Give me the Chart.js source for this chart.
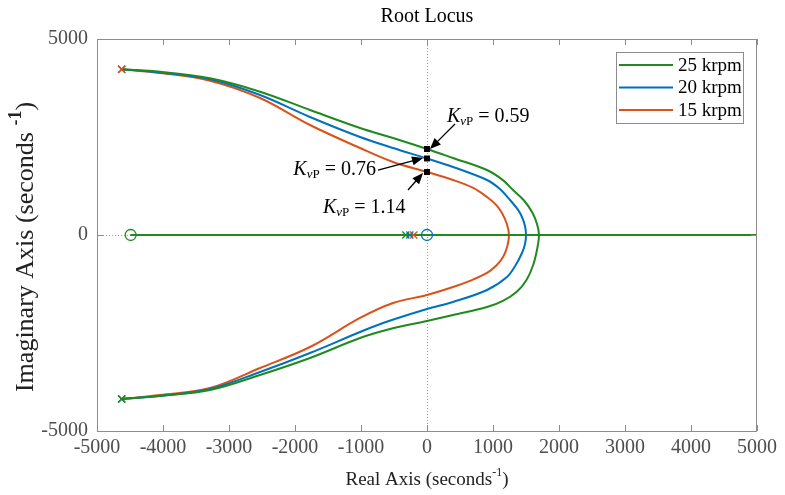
<!DOCTYPE html>
<html>
<head>
<meta charset="utf-8">
<script src="https://cdn.jsdelivr.net/npm/chart.js@4.4.0/dist/chart.umd.min.js"></script>
<style>
html, body { margin: 0; padding: 0; background: #fff; }
</style>
</head>
<body>
<canvas id="chart" width="785" height="495"></canvas>
<script>
// speeds and colours
const speeds = ['25 krpm', '20 krpm', '15 krpm'];
const colors = ['#1f8a1f', '#0072bd', '#d95319'];

// complex branches: upper half from the left pole to the real axis, then lower half back
const branch25 = [[-4626,4227],[-4045,4166],[-3288,3997],[-2530,3656],[-1773,3189],[-1015,2730],[-515,2474],[0,2194],[394,1964],[909,1658],[1150,1400],[1303,1148],[1470,880],[1600,560],[1670,260],[1697,0],[1672,-330],[1610,-760],[1510,-1140],[1364,-1440],[1150,-1680],[909,-1837],[394,-2041],[0,-2194],[-515,-2380],[-1015,-2628],[-1773,-3138],[-2530,-3571],[-3288,-3954],[-4045,-4100],[-4626,-4184]];
const branch20 = [[-4626,4227],[-4045,4145],[-3288,3972],[-2530,3571],[-1773,3010],[-1015,2500],[-515,2219],[0,1952],[394,1735],[909,1403],[1100,1180],[1258,893],[1380,640],[1439,459],[1485,230],[1500,0],[1485,-230],[1439,-459],[1340,-780],[1212,-1071],[909,-1403],[394,-1709],[0,-1888],[-667,-2245],[-1015,-2474],[-1773,-3010],[-2530,-3495],[-3288,-3929],[-4045,-4107],[-4626,-4184]];
const branch15 = [[-4626,4227],[-4045,4133],[-3288,3936],[-2530,3495],[-1773,2806],[-1015,2219],[-515,1862],[0,1607],[394,1403],[700,1200],[909,969],[1040,780],[1136,561],[1210,280],[1242,0],[1215,-300],[1152,-561],[1050,-780],[909,-969],[650,-1170],[394,-1327],[0,-1531],[-515,-1735],[-1015,-2117],[-1773,-2857],[-2530,-3393],[-3288,-3903],[-4045,-4082],[-4626,-4184]];
const branches = [branch25, branch20, branch15];

// real axis part of the locus
const realAxis = [[-4490,0],[5000,0]];

// poles and zeros
const upperPole = [-4626, 4227];
const lowerPole = [-4626, -4184];
const realPoles = [-320, -260, -200];
const leftZero = -4490;
const originZero = 0;

// gain marks where the loci cross the imaginary axis
const kvp = ['0.59', '0.76', '1.14'];
const crossY = [2194, 1952, 1607];
// label anchor (x, y, alignment), arrow tail (x, y), arrow head (x, y)
const annText = [[303, 3010, 'left'], [-773, 1658, 'right'], [-1576, 689, 'left']];
const annTail = [[424, 2832], [-742, 1658], [-288, 1148]];
const annHead = [[45, 2194], [-60, 1964], [-60, 1582]];

const xTicks = [-5000, -4000, -3000, -2000, -1000, 0, 1000, 2000, 3000, 4000, 5000];
const yTicks = [-5000, 0, 5000];

const serif = "'Liberation Serif', 'Times New Roman', serif";
const pts = arr => arr.map(p => ({ x: p[0], y: p[1] }));

function marker(point, style, color, order, radius) {
    return {
        data: [{ x: point[0], y: point[1] }], showLine: false,
        pointStyle: style, pointRadius: radius, pointBorderWidth: 1.3,
        pointBorderColor: color, pointBackgroundColor: 'rgba(0,0,0,0)', order: order
    };
}

const datasets = [];
// black squares at the crossings
datasets.push({
    data: crossY.map(y => ({ x: 0, y: y })),
    showLine: false, pointStyle: 'rect', pointRadius: 4.2,
    pointBackgroundColor: '#000', pointBorderColor: '#000', pointBorderWidth: 0, order: 0
});
speeds.forEach((s, i) => {
    datasets.push({
        label: s, data: pts(branches[i]), borderColor: colors[i], borderWidth: 2,
        pointRadius: 0, tension: 0.35, fill: false, order: 10 + i
    });
    datasets.push({
        data: pts(realAxis), borderColor: colors[i], borderWidth: 2,
        pointRadius: 0, fill: false, order: 10 + i
    });
    datasets.push(marker(upperPole, 'crossRot', colors[i], 3 - i, 5));
    datasets.push(marker(lowerPole, 'crossRot', colors[i], 1 + i, 5));
    datasets.push(marker([realPoles[i], 0], 'crossRot', colors[i], 3 - i, 5));
});
// zeros are shared; only the top-most colour shows in the reference
datasets.push(marker([leftZero, 0], 'circle', colors[0], 1, 5.5));
datasets.push(marker([originZero, 0], 'circle', colors[1], 1, 5.5));

const decor = {
    id: 'decor',
    beforeDatasetsDraw(chart) {
        const ctx = chart.ctx, a = chart.chartArea;
        const xs = chart.scales.x, ys = chart.scales.y;
        ctx.save();
        ctx.strokeStyle = '#9a9a9a';
        ctx.lineWidth = 1;
        ctx.setLineDash([1, 2]);
        const x0 = Math.round(xs.getPixelForValue(0)) + 0.5;
        const y0 = Math.round(ys.getPixelForValue(0)) + 0.5;
        ctx.beginPath();
        ctx.moveTo(x0, a.top); ctx.lineTo(x0, a.bottom);
        ctx.moveTo(a.left, y0); ctx.lineTo(a.right, y0);
        ctx.stroke();
        ctx.restore();
    },
    afterDraw(chart) {
        const ctx = chart.ctx, a = chart.chartArea;
        const xs = chart.scales.x, ys = chart.scales.y;
        ctx.save();
        // frame and inward ticks
        ctx.strokeStyle = '#8c8c8c';
        ctx.lineWidth = 1;
        ctx.strokeRect(a.left + 0.5, a.top + 0.5, a.right - a.left - 1, a.bottom - a.top);
        ctx.beginPath();
        xTicks.forEach(v => {
            const px = Math.round(xs.getPixelForValue(v)) + 0.5;
            ctx.moveTo(px, a.bottom); ctx.lineTo(px, a.bottom - 6);
            ctx.moveTo(px, a.top); ctx.lineTo(px, a.top + 6);
        });
        yTicks.forEach(v => {
            const py = Math.round(ys.getPixelForValue(v)) + 0.5;
            ctx.moveTo(a.left, py); ctx.lineTo(a.left + 6, py);
            ctx.moveTo(a.right, py); ctx.lineTo(a.right - 6, py);
        });
        ctx.stroke();

        // title
        ctx.fillStyle = '#000';
        ctx.font = '20px ' + serif;
        ctx.textAlign = 'center';
        ctx.textBaseline = 'middle';
        ctx.fillText('Root Locus', (a.left + a.right) / 2, 17);

        // axis titles with superscripts
        function withSup(parts, cx, cy) {
            let w = 0;
            parts.forEach(p => { ctx.font = p[1]; w += ctx.measureText(p[0]).width; });
            let x = cx - w / 2;
            ctx.textAlign = 'left';
            parts.forEach(p => {
                ctx.font = p[1];
                ctx.fillText(p[0], x, cy + p[2]);
                x += ctx.measureText(p[0]).width;
            });
        }
        ctx.fillStyle = '#222';
        ctx.textBaseline = 'middle';
        withSup([['Real Axis (seconds', '19px ' + serif, 0], ['-1', '12px ' + serif, -7], [')', '19px ' + serif, 0]],
            (a.left + a.right) / 2, 480);
        ctx.save();
        ctx.translate(26, (a.top + a.bottom) / 2 + 12);
        ctx.rotate(-Math.PI / 2);
        withSup([['Imaginary Axis (seconds ', '26px ' + serif, 0], ['-1', 'bold 18px ' + serif, -10], [')', '26px ' + serif, 0]], 0, 0);
        ctx.restore();

        // legend
        const lx = 616, ly = 52, lw = 127, lh = 71;
        ctx.fillStyle = '#fff';
        ctx.fillRect(lx, ly, lw, lh);
        ctx.strokeStyle = '#8c8c8c';
        ctx.strokeRect(lx + 0.5, ly + 0.5, lw, lh);
        speeds.forEach((s, i) => {
            const yy = ly + 13 + i * 22.5;
            ctx.strokeStyle = colors[i];
            ctx.lineWidth = 2;
            ctx.beginPath();
            ctx.moveTo(lx + 3, yy); ctx.lineTo(lx + 57, yy);
            ctx.stroke();
            ctx.fillStyle = '#000';
            ctx.font = '19px ' + serif;
            ctx.textAlign = 'left';
            ctx.textBaseline = 'middle';
            ctx.fillText(s, lx + 62, yy + 1);
        });

        // gain annotations
        kvp.forEach((k, i) => {
            const tx = xs.getPixelForValue(annText[i][0]);
            const ty = ys.getPixelForValue(annText[i][1]);
            const parts = [['K', 'italic 20px ' + serif, 0], ['v', 'italic 13px ' + serif, 5], ['P', '13px ' + serif, 5], [' = ' + k, '20px ' + serif, 0]];
            let w = 0;
            parts.forEach(p => { ctx.font = p[1]; w += ctx.measureText(p[0]).width; });
            let x = annText[i][2] === 'left' ? tx : tx - w;
            ctx.fillStyle = '#000';
            ctx.textAlign = 'left';
            ctx.textBaseline = 'middle';
            parts.forEach(p => {
                ctx.font = p[1];
                ctx.fillText(p[0], x, ty + p[2]);
                x += ctx.measureText(p[0]).width;
            });
            const x1 = xs.getPixelForValue(annTail[i][0]), y1 = ys.getPixelForValue(annTail[i][1]);
            const x2 = xs.getPixelForValue(annHead[i][0]), y2 = ys.getPixelForValue(annHead[i][1]);
            const ang = Math.atan2(y2 - y1, x2 - x1);
            ctx.strokeStyle = '#000';
            ctx.lineWidth = 1.3;
            ctx.beginPath();
            ctx.moveTo(x1, y1);
            ctx.lineTo(x2 - 8 * Math.cos(ang), y2 - 8 * Math.sin(ang));
            ctx.stroke();
            ctx.fillStyle = '#000';
            ctx.beginPath();
            ctx.moveTo(x2, y2);
            ctx.lineTo(x2 - 11 * Math.cos(ang) + 4.5 * Math.sin(ang), y2 - 11 * Math.sin(ang) - 4.5 * Math.cos(ang));
            ctx.lineTo(x2 - 11 * Math.cos(ang) - 4.5 * Math.sin(ang), y2 - 11 * Math.sin(ang) + 4.5 * Math.cos(ang));
            ctx.closePath();
            ctx.fill();
        });
        ctx.restore();
    }
};

new Chart(document.getElementById('chart'), {
    type: 'line',
    data: { datasets: datasets },
    options: {
        responsive: false,
        animation: false,
        layout: { padding: { top: 39, right: 28, left: 0, bottom: 0 } },
        plugins: { legend: { display: false }, title: { display: false }, tooltip: { enabled: false } },
        scales: {
            x: {
                type: 'linear', min: -5000, max: 5000,
                afterFit: s => { s.height = 64; },
                afterBuildTicks: s => { s.ticks = xTicks.map(v => ({ value: v })); },
                grid: { display: false }, border: { display: false },
                ticks: { padding: -3, color: '#4d4d4d', font: { family: serif, size: 20 }, callback: v => String(v) }
            },
            y: {
                type: 'linear', min: -5000, max: 5000,
                afterFit: s => { s.width = 97; },
                afterBuildTicks: s => { s.ticks = yTicks.map(v => ({ value: v })); },
                grid: { display: false }, border: { display: false },
                ticks: { padding: 1, color: '#4d4d4d', font: { family: serif, size: 20 }, callback: v => String(v) }
            }
        }
    },
    plugins: [decor]
});
</script>
</body>
</html>
